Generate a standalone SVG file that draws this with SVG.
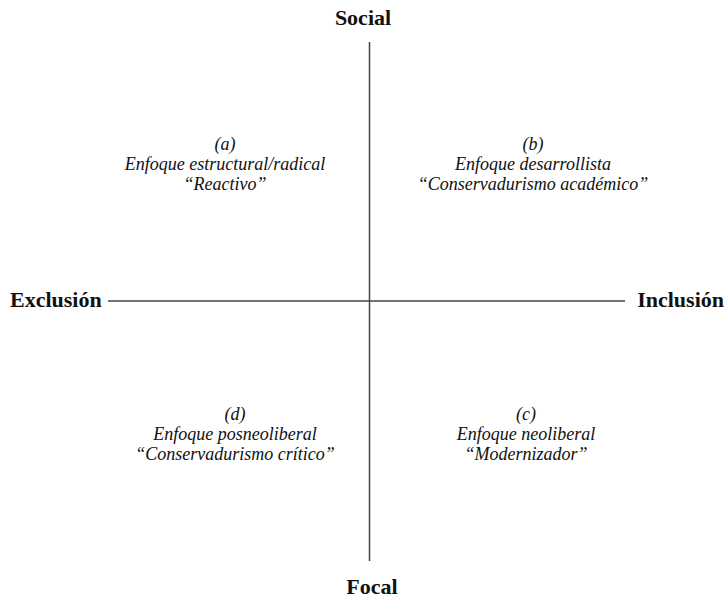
<svg xmlns="http://www.w3.org/2000/svg" width="726" height="599" viewBox="0 0 726 599">
<style>
.axis{font-family:"Liberation Serif","Times New Roman",serif;font-weight:bold;font-size:22px;fill:#111}
.q{font-family:"Liberation Serif","Times New Roman",serif;font-style:italic;font-size:18px;fill:#111;text-anchor:middle}
.ln{stroke:#444;stroke-width:1.5;fill:none}
</style>
<rect width="726" height="599" fill="#fff"/>
<g id="connectors">
<line class="ln" x1="369.5" y1="42" x2="369.5" y2="561"/>
<line class="ln" x1="108" y1="301" x2="625" y2="301"/>
</g>
<g id="social"><text class="axis" x="363" y="25" text-anchor="middle">Social</text></g>
<g id="focal"><text class="axis" x="372" y="594" text-anchor="middle">Focal</text></g>
<g id="exclusion"><text class="axis" x="10" y="307">Exclusión</text></g>
<g id="inclusion"><text class="axis" x="724" y="307" text-anchor="end">Inclusión</text></g>
<g id="qa">
<text class="q" x="225" y="150">(a)</text>
<text class="q" x="225" y="170">Enfoque estructural/radical</text>
<text class="q" x="225" y="190">“Reactivo”</text>
</g>
<g id="qb">
<text class="q" x="533" y="150">(b)</text>
<text class="q" x="533" y="170">Enfoque desarrollista</text>
<text class="q" x="533" y="190">“Conservadurismo académico”</text>
</g>
<g id="qd">
<text class="q" x="235" y="420">(d)</text>
<text class="q" x="235" y="440">Enfoque posneoliberal</text>
<text class="q" x="235" y="460">“Conservadurismo crítico”</text>
</g>
<g id="qc">
<text class="q" x="526" y="420">(c)</text>
<text class="q" x="526" y="440">Enfoque neoliberal</text>
<text class="q" x="526" y="460">“Modernizador”</text>
</g>
</svg>
